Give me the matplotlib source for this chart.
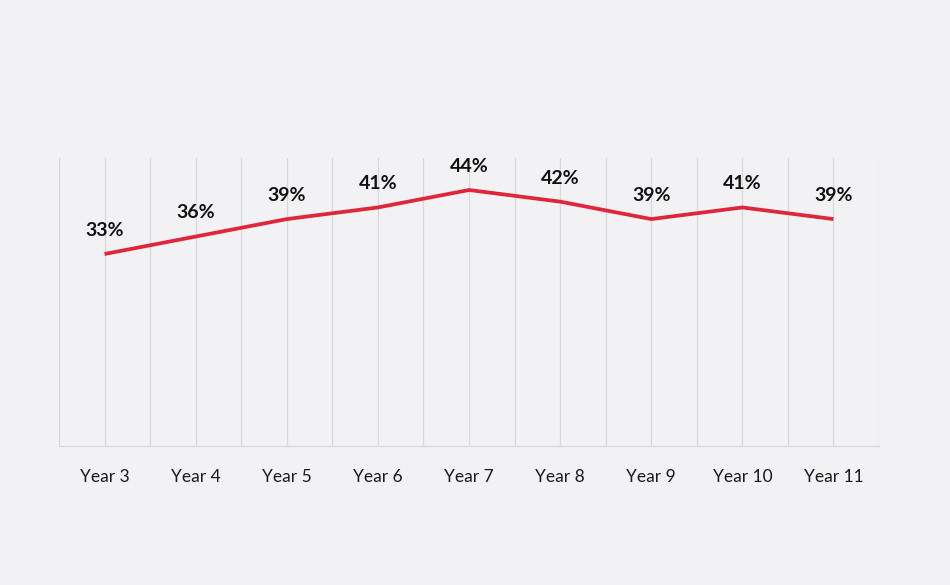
import matplotlib.pyplot as plt
import numpy as np

plt.rcParams['font.family'] = ['Lato', 'DejaVu Sans']

years = ["Year 3", "Year 4", "Year 5", "Year 6", "Year 7",
         "Year 8", "Year 9", "Year 10", "Year 11"]
share = [33, 36, 39, 41, 44, 42, 39, 41, 39]

bg = "#f2f2f4"
red = "#e0263a"
grid = "#d9d9dd"

fig = plt.figure(figsize=(9.5, 5.85), dpi=100, facecolor=bg)
ax = fig.add_axes([59 / 950, 1 - 446 / 585, 820 / 950, 288 / 585], facecolor=bg)

x = np.arange(len(years))
ax.plot(x, share, color=red, linewidth=2.7, solid_capstyle="butt", zorder=3)

for xi, v in zip(x, share):
    ax.annotate(f"{v}%", (xi, v), xytext=(0, 17), textcoords="offset points",
                ha="center", va="center", fontsize=14, fontweight="bold",
                color="#111111")

for g in np.arange(-0.5, len(years), 0.5):
    ax.axvline(g, color=grid, linewidth=0.9, zorder=1)

ax.set_xlim(-0.5, len(years) - 0.5)
ax.set_ylim(0, 49.5)
ax.set_xticks(x)
ax.set_xticklabels(years, fontsize=12.5, color="#1a1a1a")
ax.tick_params(axis="x", length=0, pad=16.5)
ax.set_yticks([])

for side in ["top", "left", "right"]:
    ax.spines[side].set_visible(False)
ax.spines["bottom"].set_color(grid)
ax.spines["bottom"].set_linewidth(0.9)

fig.savefig("out.png", dpi=100, facecolor=bg)
